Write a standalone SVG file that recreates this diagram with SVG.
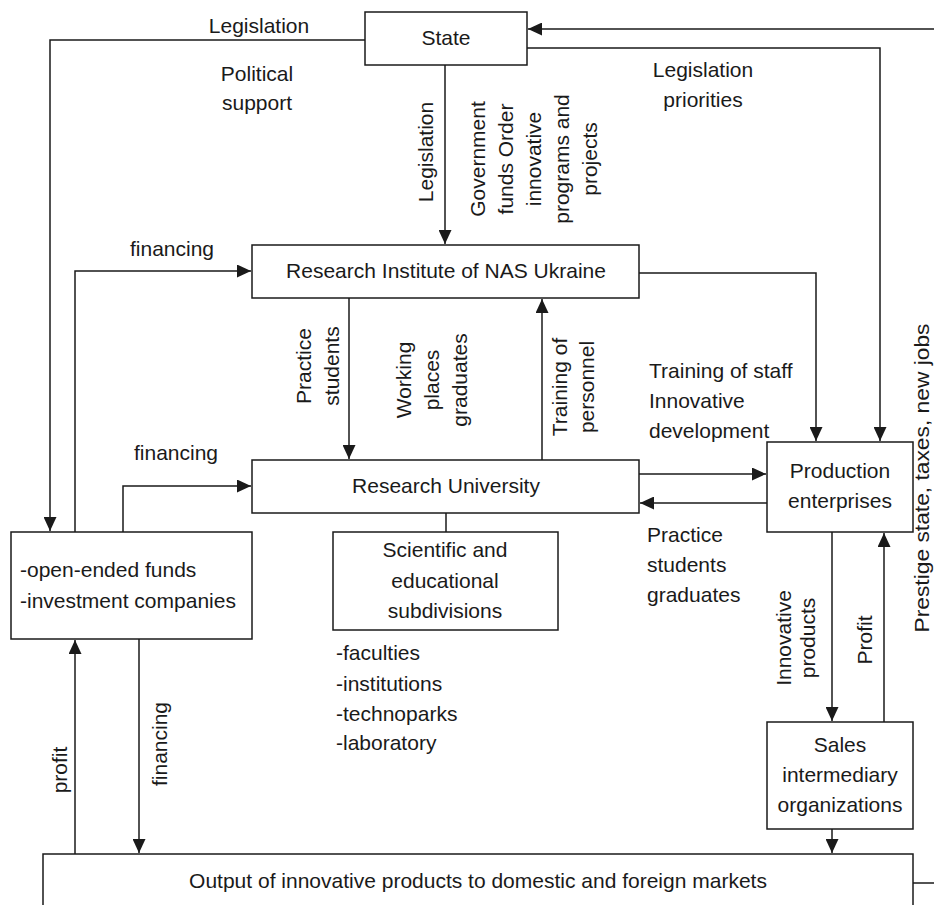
<svg xmlns="http://www.w3.org/2000/svg" width="934" height="905" viewBox="0 0 934 905">
  <style>
    .box { fill: #ffffff; stroke: #1a1a1a; stroke-width: 1.5; }
    .ln { fill: none; stroke: #1a1a1a; stroke-width: 1.5; }
    .arr { marker-end: url(#head); }
    text { font-family: "Liberation Sans", Arial, sans-serif; font-size: 21px; fill: #1a1a1a; }
    .c { text-anchor: middle; }
  </style>
  <defs>
    <marker id="head" markerUnits="userSpaceOnUse" markerWidth="15" markerHeight="13" refX="14" refY="6.5" orient="auto">
      <path d="M0,0 L14,6.5 L0,13 Z" fill="#1a1a1a"/>
    </marker>
  </defs>
  <rect width="934" height="905" fill="#ffffff"/>

  <!-- connectors -->
  <g id="connectors">
    <!-- State -> funds (legislation, political support) -->
    <path class="ln arr" d="M365,40 H50 V531"/>
    <!-- feedback from markets to State -->
    <path class="ln arr" d="M934,29 H528"/>
    <!-- State -> Production enterprises (legislation priorities) -->
    <path class="ln arr" d="M527,48 H880 V441"/>
    <!-- State -> Research Institute -->
    <path class="ln arr" d="M445,65 V244"/>
    <!-- funds -> Research Institute -->
    <path class="ln arr" d="M75,532 V271 H251"/>
    <!-- funds -> Research University -->
    <path class="ln arr" d="M123,532 V486 H251"/>
    <!-- Research Institute -> Research University -->
    <path class="ln arr" d="M349,298 V459"/>
    <!-- Research University -> Research Institute -->
    <path class="ln arr" d="M542,460 V299"/>
    <!-- Research Institute -> Production enterprises -->
    <path class="ln arr" d="M639,273 H816 V441"/>
    <!-- University <-> Production -->
    <path class="ln arr" d="M639,474 H766"/>
    <path class="ln arr" d="M767,503 H640"/>
    <!-- University -> subdivisions -->
    <path class="ln" d="M446,513 V532"/>
    <!-- Production -> Sales -->
    <path class="ln arr" d="M832,532 V721"/>
    <!-- Sales -> Production -->
    <path class="ln arr" d="M884,722 V533"/>
    <!-- Sales -> markets -->
    <path class="ln arr" d="M832,829 V853"/>
    <!-- markets -> funds (profit) -->
    <path class="ln arr" d="M75,854 V640"/>
    <!-- funds -> markets (financing) -->
    <path class="ln arr" d="M139,639 V853"/>
    <!-- markets -> right edge -->
    <path class="ln" d="M913,883 H934"/>
  </g>

  <!-- connector labels -->
  <g id="labels">
    <text class="c" x="259" y="33">Legislation</text>
    <text class="c" x="257" y="81">Political</text>
    <text class="c" x="257" y="110">support</text>
    <text class="c" x="703" y="77">Legislation</text>
    <text class="c" x="703" y="107">priorities</text>
    <text class="c" transform="translate(433,152) rotate(-90)">Legislation</text>
    <g transform="translate(0,159)">
      <text class="c" transform="translate(485,0) rotate(-90)">Government</text>
      <text class="c" transform="translate(513,0) rotate(-90)">funds Order</text>
      <text class="c" transform="translate(541,0) rotate(-90)">innovative</text>
      <text class="c" transform="translate(569,0) rotate(-90)">programs and</text>
      <text class="c" transform="translate(597,0) rotate(-90)">projects</text>
    </g>
    <text class="c" x="172" y="256">financing</text>
    <text class="c" x="176" y="460">financing</text>
    <text class="c" transform="translate(311,366) rotate(-90)">Practice</text>
    <text class="c" transform="translate(339,366) rotate(-90)">students</text>
    <text class="c" transform="translate(411,380) rotate(-90)">Working</text>
    <text class="c" transform="translate(439,380) rotate(-90)">places</text>
    <text class="c" transform="translate(467,380) rotate(-90)">graduates</text>
    <text class="c" transform="translate(567,387) rotate(-90)">Training of</text>
    <text class="c" transform="translate(594,387) rotate(-90)">personnel</text>
    <text x="649" y="378">Training of staff</text>
    <text x="649" y="408">Innovative</text>
    <text x="649" y="438">development</text>
    <text x="647" y="542">Practice</text>
    <text x="647" y="572">students</text>
    <text x="647" y="602">graduates</text>
    <text class="c" transform="translate(791,638) rotate(-90)">Innovative</text>
    <text class="c" transform="translate(815,638) rotate(-90)">products</text>
    <text class="c" transform="translate(872,640) rotate(-90)">Profit</text>
    <text class="c" transform="translate(929,478) rotate(-90)" textLength="309" lengthAdjust="spacingAndGlyphs">Prestige state, taxes, new jobs</text>
    <text class="c" transform="translate(67,770) rotate(-90)">profit</text>
    <text class="c" transform="translate(167,744) rotate(-90)">financing</text>
  </g>

  <!-- nodes -->
  <g id="state">
    <rect class="box" x="365" y="12" width="162" height="53"/>
    <text class="c" x="446" y="45">State</text>
  </g>
  <g id="research-institute">
    <rect class="box" x="252" y="245" width="387" height="53"/>
    <text class="c" x="446" y="278">Research Institute of NAS Ukraine</text>
  </g>
  <g id="research-university">
    <rect class="box" x="252" y="460" width="387" height="53"/>
    <text class="c" x="446" y="493">Research University</text>
  </g>
  <g id="production-enterprises">
    <rect class="box" x="767" y="442" width="146" height="90"/>
    <text class="c" x="840" y="478">Production</text>
    <text class="c" x="840" y="508">enterprises</text>
  </g>
  <g id="funds">
    <rect class="box" x="11" y="532" width="241" height="107"/>
    <text x="20" y="577">-open-ended funds</text>
    <text x="20" y="608">-investment companies</text>
  </g>
  <g id="subdivisions">
    <rect class="box" x="333" y="532" width="225" height="98"/>
    <text class="c" x="445" y="557">Scientific and</text>
    <text class="c" x="445" y="588">educational</text>
    <text class="c" x="445" y="618">subdivisions</text>
    <text x="336" y="660">-faculties</text>
    <text x="336" y="691">-institutions</text>
    <text x="336" y="721">-technoparks</text>
    <text x="336" y="750">-laboratory</text>
  </g>
  <g id="sales">
    <rect class="box" x="767" y="722" width="146" height="107"/>
    <text class="c" x="840" y="752">Sales</text>
    <text class="c" x="840" y="782">intermediary</text>
    <text class="c" x="840" y="812">organizations</text>
  </g>
  <g id="markets">
    <rect class="box" x="43" y="854" width="870" height="60"/>
    <text class="c" x="478" y="888">Output of innovative products to domestic and foreign markets</text>
  </g>
</svg>
